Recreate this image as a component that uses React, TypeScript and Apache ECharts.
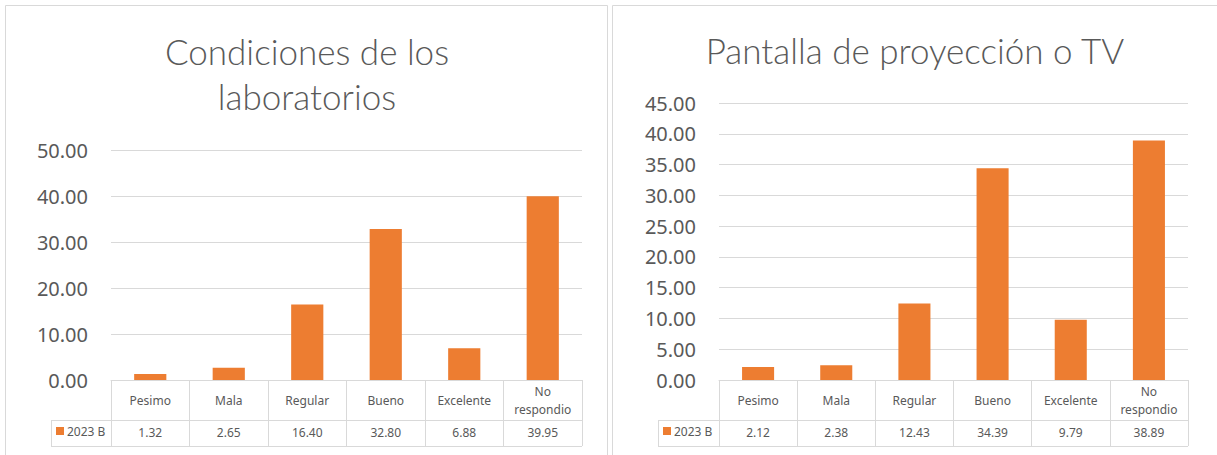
import React, { useEffect, useRef } from "react";
import * as echarts from "echarts";

const categories = ["Pesimo", "Mala", "Regular", "Bueno", "Excelente", "No respondio"];
const seriesName = "2023 B";
const labValues = [1.32, 2.65, 16.4, 32.8, 6.88, 39.95];
const tvValues = [2.12, 2.38, 12.43, 34.39, 9.79, 38.89];
const labTitle = "Condiciones de los\nlaboratorios";
const tvTitle = "Pantalla de proyección o TV";
const labYMax = 50;
const labYStep = 10;
const tvYMax = 45;
const tvYStep = 5;

const ORANGE = "#ED7D31";
const GRID = "#d9d9d9";
const TEXT = "#595959";
const FONT = "'Noto Sans', sans-serif";
const TITLE_FONT = "Lato, 'Noto Sans', sans-serif";

const catFmt = (v: string) => (v.length > 10 ? v.replace(" ", "\n") : v);

export default function App() {
  const ref = useRef<HTMLDivElement>(null);
  useEffect(() => {
    if (!ref.current) return;
    const chart = echarts.init(ref.current, null, { renderer: "svg" });

    const panels = [
      { left: 111, width: 471, top: 150, legL: 51, values: labValues, max: labYMax, step: labYStep },
      { left: 719, width: 469, top: 103, legL: 658, values: tvValues, max: tvYMax, step: tvYStep },
    ];
    const axisBottom = 380;

    const grids = panels.map((p) => ({
      left: p.left,
      width: p.width,
      top: p.top,
      height: axisBottom - p.top,
      containLabel: false,
    }));

    const xAxes: any[] = [];
    const yAxes: any[] = [];
    const series: any[] = [];
    panels.forEach((p, gi) => {
      xAxes.push({
        type: "category",
        gridIndex: gi,
        data: categories,
        axisLine: { show: true, lineStyle: { color: GRID, width: 1 } },
        axisTick: { show: true, length: 66, interval: 0, lineStyle: { color: GRID, width: 1 } },
        axisLabel: {
          interval: 0,
          margin: 20,
          verticalAlign: "middle",
          formatter: catFmt,
          color: TEXT,
          fontFamily: FONT,
          fontSize: 12,
          lineHeight: 18,
        },
      });
      xAxes.push({
        type: "category",
        gridIndex: gi,
        data: categories,
        position: "bottom",
        offset: 40,
        axisLine: { show: false },
        axisTick: { show: false },
        axisLabel: {
          interval: 0,
          margin: 12,
          verticalAlign: "middle",
          formatter: (_v: string, i: number) => p.values[i].toFixed(2),
          color: TEXT,
          fontFamily: FONT,
          fontSize: 12,
        },
      });
      yAxes.push({
        type: "value",
        gridIndex: gi,
        min: 0,
        max: p.max,
        interval: p.step,
        axisLine: { show: false },
        axisTick: { show: false },
        splitLine: { lineStyle: { color: GRID, width: 1 } },
        axisLabel: {
          margin: 23,
          formatter: (v: number) => v.toFixed(2),
          color: TEXT,
          fontFamily: FONT,
          fontSize: 20,
        },
      });
      series.push({
        type: "bar",
        name: seriesName,
        xAxisIndex: gi * 2,
        yAxisIndex: gi,
        data: p.values,
        barCategoryGap: "59%",
        itemStyle: { color: ORANGE },
      });
    });

    const graphics: any[] = [
      { type: "rect", shape: { x: 5.5, y: 5.5, width: 602, height: 470 }, style: { fill: "none", stroke: GRID, lineWidth: 1 }, silent: true },
      { type: "rect", shape: { x: 612.5, y: 5.5, width: 640, height: 470 }, style: { fill: "none", stroke: GRID, lineWidth: 1 }, silent: true },
      {
        type: "text",
        x: 307,
        y: 28,
        style: { text: labTitle, textAlign: "center", textVerticalAlign: "top", fontSize: 35, lineHeight: 45, fontFamily: TITLE_FONT, fontWeight: 300, fill: TEXT },
      },
      {
        type: "text",
        x: 915,
        y: 27,
        style: { text: tvTitle, textAlign: "center", textVerticalAlign: "top", fontSize: 35, lineHeight: 45, fontFamily: TITLE_FONT, fontWeight: 300, fill: TEXT },
      },
    ];
    panels.forEach((p) => {
      const R = p.left + p.width;
      graphics.push(
        { type: "line", shape: { x1: p.legL, y1: 420.5, x2: R, y2: 420.5 }, style: { stroke: GRID, lineWidth: 1 }, silent: true },
        { type: "line", shape: { x1: p.legL, y1: 446.5, x2: R, y2: 446.5 }, style: { stroke: GRID, lineWidth: 1 }, silent: true },
        { type: "line", shape: { x1: p.legL + 0.5, y1: 420.5, x2: p.legL + 0.5, y2: 446.5 }, style: { stroke: GRID, lineWidth: 1 }, silent: true }
      );
    });

    const legends = panels.map((p) => ({
      left: p.legL + 5,
      top: 425,
      padding: 0,
      icon: "rect",
      itemWidth: 8,
      itemHeight: 8,
      itemGap: 4,
      data: [seriesName],
      textStyle: { color: TEXT, fontFamily: FONT, fontSize: 12, padding: [0, 0, 0, -2] },
      selectedMode: false,
    }));

    chart.setOption({
      animation: false,
      backgroundColor: "#ffffff",
      grid: grids,
      xAxis: xAxes,
      yAxis: yAxes,
      series,
      legend: legends,
      graphic: graphics,
    });
    return () => chart.dispose();
  }, []);
  return (
    <div
      ref={ref}
      style={{ position: "fixed", left: 0, top: 0, width: 1217, height: 455, background: "#fff" }}
    />
  );
}
